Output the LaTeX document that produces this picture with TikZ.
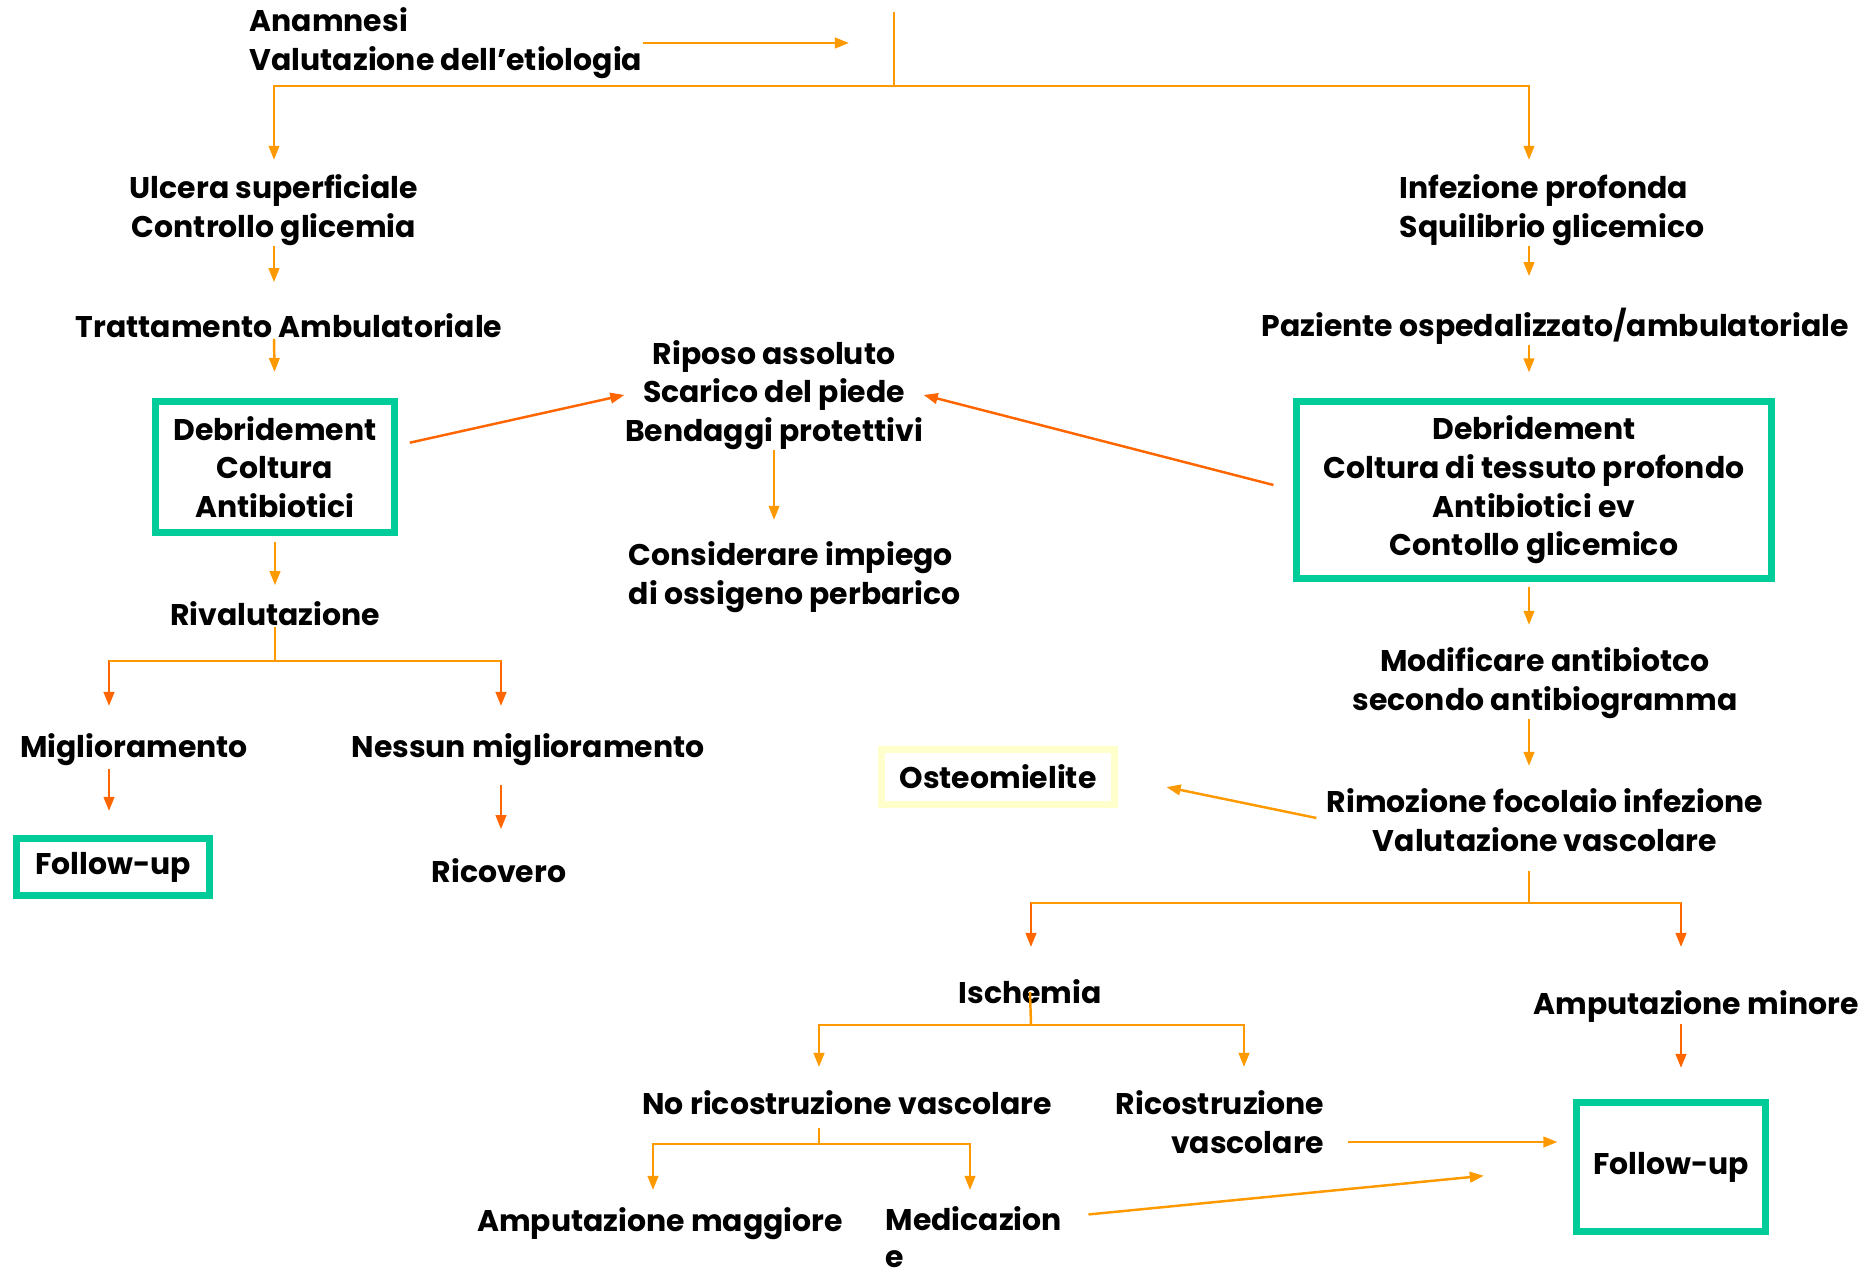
\documentclass[tikz,border=0pt]{standalone}
\usepackage{fontspec}
\setmainfont{Poppins}
\usetikzlibrary{arrows.meta}
\definecolor{flow}{HTML}{FF9900}
\definecolor{flowdark}{HTML}{FF6600}
\definecolor{boxgreen}{HTML}{00CC99}
\definecolor{boxyellow}{HTML}{FFFFCC}

\begin{document}
\begin{tikzpicture}[x=0.01cm,y=-0.01cm,
  font=\fontsize{8.5}{11}\selectfont\bfseries,
  txt/.style={inner sep=0pt,align=center,yshift=-0.03cm},
  gbox/.style={draw=boxgreen,line width=2pt,align=center,inner sep=0pt},
  ybox/.style={draw=boxyellow,line width=2pt,inner sep=0pt},
  ln/.style={flow,line width=0.7pt},
  arr/.style={ln,-{Triangle[length=4pt,width=3pt]}},
  arrd/.style={arr,flowdark}]
\fill[white] (0,0) rectangle (1875,1270);
\useasboundingbox (0,0) rectangle (1875,1270);

% left branch
\node[txt,anchor=west,align=left] (anam) at (249,40) {Anamnesi\\Valutazione dell’etiologia};
\node[txt] (ulc) at (274,207) {Ulcera superficiale\\Controllo glicemia};
\node[txt] (tratt) at (289,323) {Trattamento Ambulatoriale};
\node[gbox,minimum width=2.39cm,minimum height=1.31cm] (deb1) at (275,467) {Debridement\\Coltura\\Antibiotici};
\node[txt] (riv) at (275,611) {Rivalutazione};
\node[txt] (migl) at (134,747) {Miglioramento};
\node[txt] (nes) at (528,747) {Nessun miglioramento};
\node[gbox,minimum width=1.92cm,minimum height=0.57cm] (fu1) at (113,867) {Follow-up};
\node[txt] (ric) at (499,868) {Ricovero};

% middle
\node[txt] (rip) at (774,392) {Riposo assoluto\\Scarico del piede\\Bendaggi protettivi};
\node[txt,anchor=west,align=left] (cons) at (628,574) {Considerare impiego\\di ossigeno perbarico};

% right branch
\node[txt,anchor=west,align=left] (inf) at (1399,207) {Infezione profonda\\Squilibrio glicemico};
\node[txt] (paz) at (1555,323) {Paziente ospedalizzato/ambulatoriale};
\node[gbox,minimum width=4.75cm,minimum height=1.76cm] (deb2) at (1534,490) {Debridement\\Coltura di tessuto profondo\\Antibiotici ev\\Contollo glicemico};
\node[txt] (mod) at (1545,680) {Modificare antibiotco\\secondo antibiogramma};
\node[txt] (rim) at (1545,817) {Rimozione focolaio infezione\\Valutazione vascolare};
\node[ybox,minimum width=2.32cm,minimum height=0.55cm] (ost) at (998,777) {Osteomielite};
\node[txt] (isch) at (1030,989) {Ischemia};
\node[txt] (ampmin) at (1696,1003) {Amputazione minore};
\node[txt] (noric) at (847,1100) {No ricostruzione vascolare};
\node[txt,anchor=east,align=right] (ricv) at (1325,1119) {Ricostruzione\\vascolare};
\node[gbox,minimum width=1.88cm,minimum height=1.29cm] (fu2) at (1671,1167) {Follow-up};
\node[txt] (ampmag) at (660,1221) {Amputazione maggiore};
\node[txt,anchor=west,align=left,yshift=0.06cm,font=\fontsize{8.5}{10.4}\selectfont\bfseries] (med) at (885,1240) {Medicazion\\e};

% junctions and arrow ends
\coordinate (top) at (894,12);
\coordinate (jtop) at (894,86);
\coordinate (rcol) at (1529,0);
\coordinate (jriv) at (275,661);
\coordinate (mig-in) at (109,706);
\coordinate (nes-in) at (501,706);
\coordinate (jrim) at (1529,903);
\coordinate (isc-in) at (1031,947);
\coordinate (amn-in) at (1681,947);
\coordinate (jisc) at (1031,1025);
\coordinate (nor-in) at (819,1067);
\coordinate (ric-in) at (1244,1067);
\coordinate (jnor) at (819,1144);
\coordinate (mag-in) at (653,1190);
\coordinate (med-in) at (970,1190);

% connectors
\draw[ln] (top) -- (jtop);
\draw[arr,shorten >=0.45cm] (anam.east) -- (anam.east -| top);
\draw[arr,shorten >=0.14cm] (jtop) -| (ulc.north);
\draw[arr,shorten >=0.14cm] (jtop) -| (rcol |- inf.north);
\draw[arr,shorten >=0.31cm] (ulc.south) -- (ulc.south |- tratt.north);
\draw[arr,shorten >=0.26cm] (ulc.south |- tratt.south) -- (deb1.north);
\draw[arr,shorten <=0.06cm,shorten >=0.16cm] (deb1.south) -- (riv.north);
\draw[ln] (riv.south) -- (jriv);
\draw[arrd] (jriv) -| (mig-in);
\draw[arrd] (jriv) -| (nes-in);
\draw[ln] (mig-in |- jriv) -- (nes-in |- jriv);
\draw[arrd,shorten <=0.02cm,shorten >=0.24cm] (migl.south -| mig-in) -- (mig-in |- fu1.north);
\draw[arrd,shorten <=0.18cm,shorten >=0.29cm] (nes.south -| nes-in) -- (nes-in |- ric.north);

\draw[arrd,shorten <=0.12cm] (deb1.10) -- (rip.west);
\draw[arrd,shorten <=0.2cm] (deb2.west) -- (rip.east);
\draw[arr,shorten >=0.21cm] (rip.south) -- (rip.south |- cons.north);

\draw[arr,shorten >=0.31cm] (rcol |- inf.south) -- (rcol |- paz.north);
\draw[arr,shorten >=0.26cm] (rcol |- paz.south) -- (rcol |- deb2.north);
\draw[arr,shorten <=0.05cm,shorten >=0.22cm] (rcol |- deb2.south) -- (rcol |- mod.north);
\draw[arr,shorten >=0.22cm] (rcol |- mod.south) -- (rcol |- rim.north);
\draw[arr,shorten <=0.1cm,shorten >=0.5cm] (rim.west) -- (ost.east);
\draw[ln,shorten <=0.19cm] (rcol |- rim.south) -- (jrim);
\draw[arrd] (jrim) -| (isc-in);
\draw[arrd] (jrim) -| (amn-in);
\draw[ln] (isc-in |- jrim) -- (amn-in |- jrim);
\draw[ln] (isch.center) -- (jisc);
\draw[arr] (jisc) -| (nor-in);
\draw[arr] (jisc) -| (ric-in);
\draw[arrd,shorten <=0.01cm,shorten >=0.31cm] (amn-in |- ampmin.south) -- (amn-in |- fu2.north);
\draw[ln,shorten <=0.12cm] (jnor |- noric.south) -- (jnor);
\draw[arr] (jnor) -| (mag-in);
\draw[arr] (jnor) -| (med-in);
\draw[arr,shorten <=0.23cm,shorten >=0.16cm] ([yshift=-0.2cm]ricv.east) -- ([yshift=-0.2cm]ricv.east -| fu2.west);
\draw[arr,shorten <=0.26cm,shorten >=0.9cm] ([yshift=0.2cm]med.east) -- (fu2.west);
\end{tikzpicture}
\end{document}
